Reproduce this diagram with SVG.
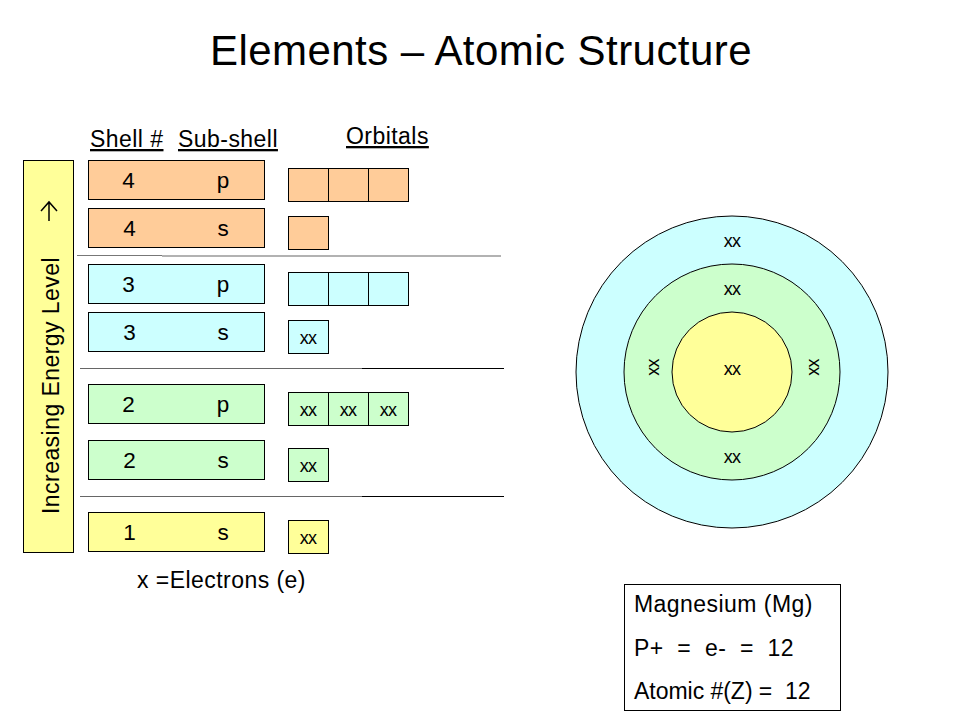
<svg xmlns="http://www.w3.org/2000/svg" width="960" height="720" viewBox="0 0 960 720">
<style>
text{font-family:"Liberation Sans",Arial,sans-serif;fill:#000}
.b{stroke:#000;stroke-width:1}
.o{fill:#ffcc99}.c{fill:#ccffff}.g{fill:#ccffcc}.y{fill:#ffff99}
.t{font-size:23px;letter-spacing:.45px}
.h{font-size:23px;letter-spacing:.45px;text-decoration:underline}
.x{font-size:18px;text-anchor:middle;letter-spacing:-.8px}
.m{text-anchor:middle;font-size:22.500px}
</style>
<rect width="960" height="720" fill="#fff"/>
<text id="title" x="210" y="65" font-size="42" letter-spacing=".45">Elements – Atomic Structure</text>
<g id="headers">
<text class="h" x="90" y="147">Shell #</text>
<text class="h" x="178" y="147">Sub-shell</text>
<text class="h" x="346" y="144">Orbitals</text>
</g>
<g id="energy-axis">
<rect class="b y" x="23.5" y="160.5" width="50" height="392"/>
<text class="t" transform="translate(58.500,514) rotate(-90)">Increasing Energy Level</text>
<path d="M49 221V202M41 211L49 202L57 211" fill="none" stroke="#000" stroke-width="1.5"/>
</g>
<g id="connectors">
<path d="M77 255.5H162" stroke="#777" stroke-width="1.2"/><path d="M162 256H501" stroke="#666" stroke-width="1.2"/>
<path d="M80 368.500H362" stroke="#666" stroke-width="1.2"/><path d="M362 368.500H504" stroke="#000" stroke-width="1"/>
<path d="M80 496.500H362" stroke="#666" stroke-width="1.2"/><path d="M362 496.500H504" stroke="#000" stroke-width="1"/>
</g>
<g id="shell-4p"><rect class="b o" x="88.5" y="160.5" width="176" height="39"/><text class="m" x="128.500" y="187.500">4</text><text class="m" x="223" y="187.500">p</text></g>
<g id="shell-4s"><rect class="b o" x="88.5" y="208.5" width="176" height="39"/><text class="m" x="129.500" y="235.500">4</text><text class="m" x="223" y="235.500">s</text></g>
<g id="shell-3p"><rect class="b c" x="88.5" y="264.5" width="176" height="39"/><text class="m" x="128.500" y="291.500">3</text><text class="m" x="223" y="291.500">p</text></g>
<g id="shell-3s"><rect class="b c" x="88.5" y="312.5" width="176" height="39"/><text class="m" x="129.500" y="339.500">3</text><text class="m" x="223" y="339.500">s</text></g>
<g id="shell-2p"><rect class="b g" x="88.5" y="384.5" width="176" height="39"/><text class="m" x="128.500" y="411.500">2</text><text class="m" x="223" y="411.500">p</text></g>
<g id="shell-2s"><rect class="b g" x="88.5" y="440.5" width="176" height="39"/><text class="m" x="129.500" y="467.500">2</text><text class="m" x="223" y="467.500">s</text></g>
<g id="shell-1s"><rect class="b y" x="88.5" y="512.5" width="176" height="39"/><text class="m" x="129.500" y="539.500">1</text><text class="m" x="223" y="539.500">s</text></g>
<g id="orbitals-4p"><rect class="b o" x="288.5" y="168.5" width="40" height="33"/><rect class="b o" x="328.5" y="168.5" width="40" height="33"/><rect class="b o" x="368.5" y="168.5" width="40" height="33"/></g>
<g id="orbitals-4s"><rect class="b o" x="288.5" y="216.5" width="40" height="33"/></g>
<g id="orbitals-3p"><rect class="b c" x="288.5" y="272.5" width="40" height="33"/><rect class="b c" x="328.5" y="272.5" width="40" height="33"/><rect class="b c" x="368.5" y="272.5" width="40" height="33"/></g>
<g id="orbitals-3s"><rect class="b c" x="288.5" y="320.5" width="40" height="33"/><text class="x" x="308" y="344">xx</text></g>
<g id="orbitals-2p"><rect class="b g" x="288.5" y="392.5" width="40" height="33"/><rect class="b g" x="328.5" y="392.5" width="40" height="33"/><rect class="b g" x="368.5" y="392.5" width="40" height="33"/><text class="x" x="308" y="416">xx</text><text class="x" x="348" y="416">xx</text><text class="x" x="388" y="416">xx</text></g>
<g id="orbitals-2s"><rect class="b g" x="288.5" y="448.5" width="40" height="33"/><text class="x" x="308" y="472">xx</text></g>
<g id="orbitals-1s"><rect class="b y" x="288.5" y="520.5" width="40" height="33"/><text class="x" x="308" y="544">xx</text></g>
<text id="legend" class="t" x="137" y="587.500">x =Electrons (e)</text>
<g id="atom">
<circle class="b c" cx="732" cy="372" r="156"/>
<circle class="b g" cx="732" cy="372" r="108"/>
<circle class="b y" cx="732" cy="372" r="60"/>
<text class="x" x="732" y="247">xx</text>
<text class="x" x="732" y="295">xx</text>
<text class="x" x="732" y="375">xx</text>
<text class="x" x="732" y="463">xx</text>
<text class="x" transform="translate(659,367.500) rotate(-90)">xx</text>
<text class="x" transform="translate(819,367.500) rotate(-90)">xx</text>
</g>
<g id="info">
<rect x="624.500" y="584.500" width="216" height="126" fill="#fff" stroke="#000"/>
<text class="t" x="634" y="612">Magnesium (Mg)</text>
<text class="t" x="634" y="656" xml:space="preserve">P+  =  e-  =  12</text>
<text class="t" x="634" y="699" xml:space="preserve" textLength="177">Atomic #(Z) =  12</text>
</g>
</svg>
